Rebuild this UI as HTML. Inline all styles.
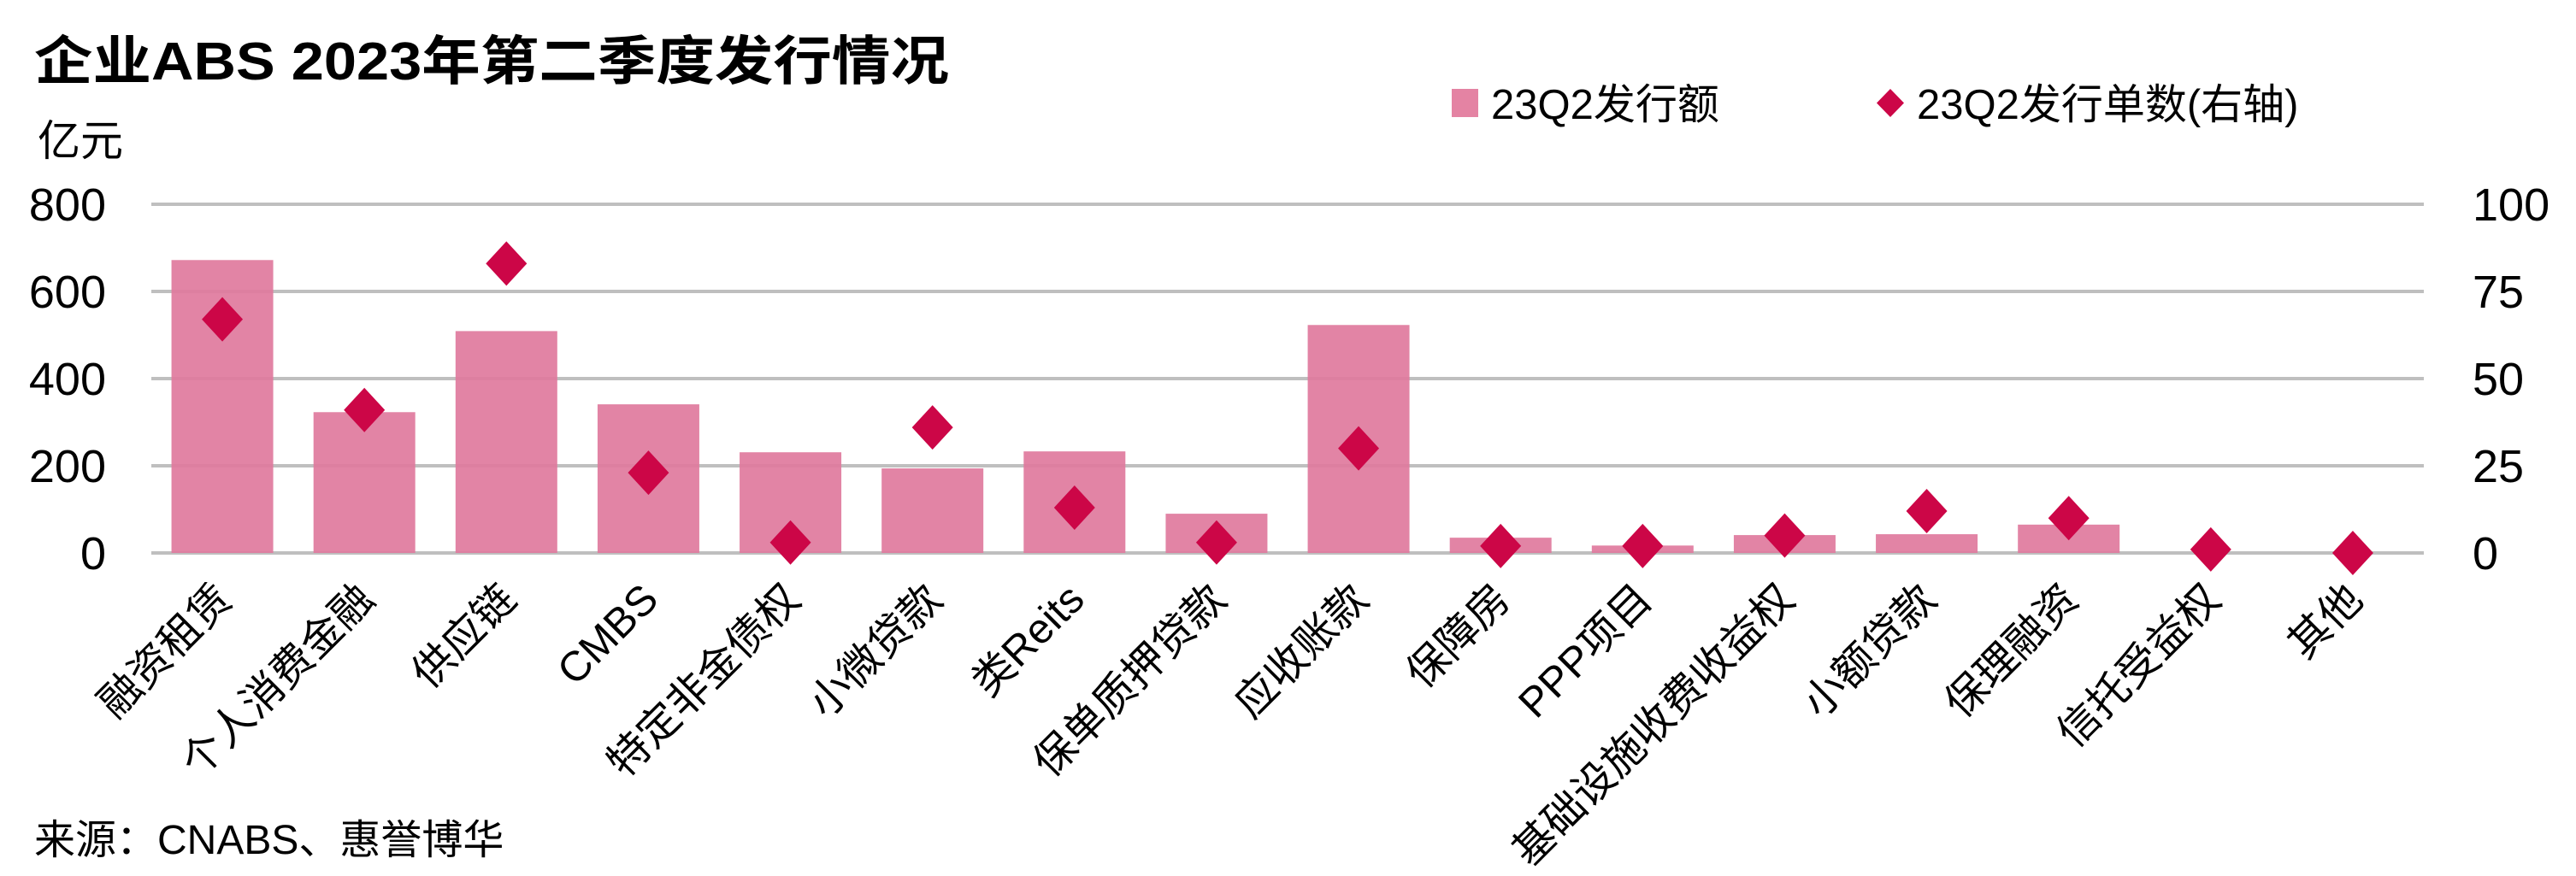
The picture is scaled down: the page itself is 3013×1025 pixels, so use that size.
<!DOCTYPE html>
<html><head><meta charset="utf-8">
<style>
html,body{margin:0;padding:0;background:#fff;}
svg{display:block;font-family:"Liberation Sans","Noto Sans CJK SC",sans-serif;}
</style></head>
<body>
<svg id="chart" width="3013" height="1025" viewBox="0 0 3013 1025" xmlns="http://www.w3.org/2000/svg">
<rect x="0" y="0" width="3013" height="1025" fill="#fff"/>
<text x="40" y="93" font-size="62" font-weight="bold" fill="#000" textLength="1070" lengthAdjust="spacingAndGlyphs">企业ABS 2023年第二季度发行情况</text>
<text x="44" y="182" font-size="50" fill="#000">亿元</text>
<g>
<rect x="1698" y="104" width="31" height="33" fill="#e483a3"/>
<text x="1744" y="139" font-size="49" fill="#000">23Q2发行额</text>
<polygon points="2211,104 2227,120.5 2211,137 2195,120.5" fill="#cc0647"/>
<text x="2242" y="139" font-size="49" fill="#000">23Q2发行单数(右轴)</text>
</g>
<g id="grid"></g>
<g id="bars"></g>
<g id="diamonds"></g>
<g id="labels"></g>
<text x="40" y="999" font-size="48" fill="#000">来源：CNABS、惠誉博华</text>
</svg>
<script>
const categories = ["融资租赁","个人消费金融","供应链","CMBS","特定非金债权","小微贷款","类Reits","保单质押贷款","应收账款","保障房","PPP项目","基础设施收费收益权","小额贷款","保理融资","信托受益权","其他"];
const amounts = [672,323,509,341,231,194,233,90,523,35,17,41,43,65,0,0];
const counts = [67,41,83,23,3,36,13,3,30,2,2,5,12,10,1,0];
const leftTicks = [0,200,400,600,800];
const rightTicks = [0,25,50,75,100];

const NS = "http://www.w3.org/2000/svg";
const plotL = 177, plotR = 2835, plotT = 239, plotB = 647;
const leftMax = 800, rightMax = 100;
const band = (plotR - plotL) / categories.length;
const xC = i => plotL + band * (i + 0.5);
const yL = v => plotB - (v / leftMax) * (plotB - plotT);
const yR = v => plotB - (v / rightMax) * (plotB - plotT);
function mk(tag, attrs, parent) {
  const e = document.createElementNS(NS, tag);
  for (const k in attrs) e.setAttribute(k, attrs[k]);
  parent.appendChild(e);
  return e;
}
const grid = document.getElementById("grid");
leftTicks.forEach((t, i) => {
  const ln = mk("line", {x1: plotL, x2: plotR, y1: yL(t), y2: yL(t), stroke: "#bfbfbf", "stroke-width": 4}, grid);
  
  
  const tl = mk("text", {x: 124, y: yL(t) + 19, "font-size": 54, "text-anchor": "end", fill: "#000"}, grid);
  
  
  tl.textContent = t;
});
rightTicks.forEach(t => {
  const tl = mk("text", {x: 2892, y: yR(t) + 19, "font-size": 54, "text-anchor": "start", fill: "#000"}, grid);
  
  
  tl.textContent = t;
});
const bars = document.getElementById("bars");
const bw = 119;
amounts.forEach((v, i) => {
  if (v <= 0) return;
  const r = mk("rect", {x: xC(i) - bw / 2, y: yL(v), width: bw, height: plotB - yL(v), fill: "#e07a9d", "fill-opacity": 0.92}, bars);
  
  
});
const dg = document.getElementById("diamonds");
counts.forEach((v, i) => {
  const cx = xC(i), cy = yR(v), hw = 24, hh = 26;
  const p = mk("polygon", {points: `${cx},${cy-hh} ${cx+hw},${cy} ${cx},${cy+hh} ${cx-hw},${cy}`, fill: "#cc0647"}, dg);
  
  
});
const lg = document.getElementById("labels");
categories.forEach((c, i) => {
  const x = xC(i) + 14, y = 704;
  const t = mk("text", {x: x, y: y, "font-size": 49, "text-anchor": "end", fill: "#000", transform: `rotate(-45 ${x} ${y})`}, lg);
  
  
  t.textContent = c;
});
</script>
</body></html>
